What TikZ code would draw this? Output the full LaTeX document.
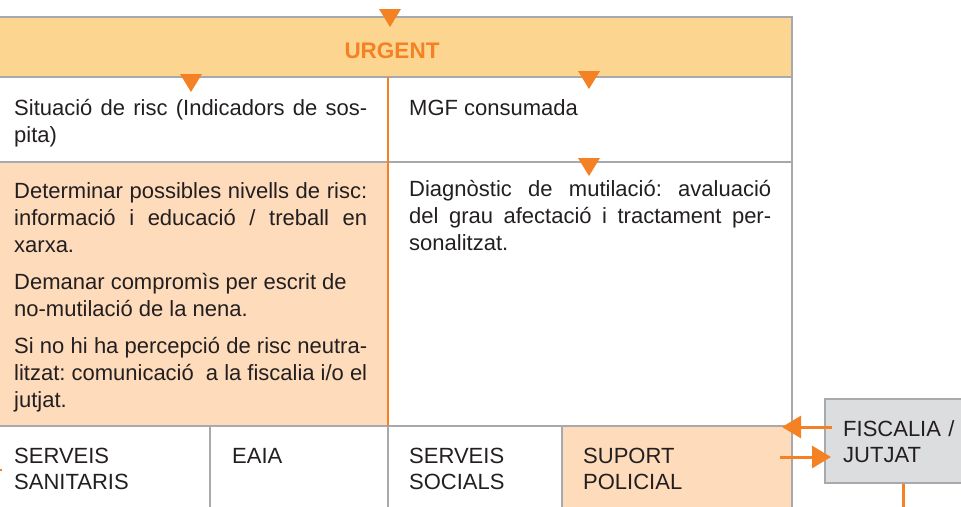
\documentclass[tikz,border=0pt]{standalone}
\usepackage{fontspec}
\setmainfont{Liberation Sans}
\usetikzlibrary{arrows.meta}
\definecolor{orng}{HTML}{F48124}
\definecolor{urg}{HTML}{FCD690}
\definecolor{peach}{HTML}{FDDBBB}
\definecolor{lgray}{HTML}{A7A9AC}
\definecolor{boxgray}{HTML}{DCDDDF}
\definecolor{txt}{HTML}{231F20}
\frenchspacing
\begin{document}
\begin{tikzpicture}[x=1pt,y=-1pt,
  grid/.style={draw=lgray,line width=1.5pt},
  divider/.style={draw=orng,line width=2pt},
  tri/.style={fill=orng},
  lbl/.style={inner sep=0pt,anchor=base west,text=txt,font=\fontsize{22}{27}\selectfont},
  para/.style={lbl,text width=353pt,align=justify,
    execute at begin node={\frenchspacing\hyphenpenalty=10000 \tolerance=9999 \emergencystretch=20pt\relax}},
  stack/.style={lbl,text width=200pt,align=left,font=\fontsize{22}{26}\selectfont},
  arr/.style={draw=orng,line width=3pt,-{Triangle[length=19pt,width=22pt]}}]
\useasboundingbox (0,0) rectangle (961,506);
\clip (0,0) rectangle (961,506);
% fills
\fill[urg] (-5,17) rectangle (792,77);
\fill[peach] (-5,162) rectangle (388,426);
\fill[peach] (562,426) rectangle (792,510);
% grid
\draw[grid] (-5,17) -- (792,17) -- (792,510);
\draw[grid] (-5,77) -- (792,77);
\draw[grid] (-5,162) -- (792,162);
\draw[grid] (-5,426) -- (792,426);
\draw[grid] (210,426) -- (210,510);
\draw[grid] (388,426) -- (388,510);
\draw[grid] (562,426) -- (562,510);
\draw[divider] (388,77) -- (388,426);
% triangles
\fill[tri] (379,9) -- (401,9) -- (390,27) -- cycle;
\fill[tri] (180,74) -- (202,74) -- (191,92) -- cycle;
\fill[tri] (578,71) -- (600,71) -- (589,89) -- cycle;
\fill[tri] (578,158) -- (600,158) -- (589,176) -- cycle;
% texts
\node[inner sep=0pt,anchor=base,text=orng,font=\bfseries\fontsize{22.5}{27}\selectfont] (urgent) at (392,58) {URGENT};
\node[para] (sit) at (14,115) {Situació de risc (Indicadors de sos-\linebreak pita)};
\node[lbl] (mgf) at (409,115) {MGF consumada};
\node[para] (p1) at (14,198) {Determinar possibles nivells de risc:\linebreak informació i educació / treball en\linebreak xarxa.};
\node[para] (p2) at (14,289) {Demanar compromìs per escrit de\newline no-mutilació de la nena.};
\node[para] (p3) at (14,353) {Si no hi ha percepció de risc neutra-\linebreak litzat: comunicació\ \ a la fiscalia i/o el\linebreak jutjat.};
\node[para,text width=362pt] (diag) at (409,196) {Diagnòstic de mutilació: avaluació\linebreak del grau afectació i tractament per-\linebreak sonalitzat.};
\node[stack] (sanit) at (14,463) {SERVEIS\\SANITARIS};
\node[stack] (eaia) at (232,463) {EAIA};
\node[stack] (socials) at (409,463) {SERVEIS\\SOCIALS};
\node[stack] (policia) at (583,463) {SUPORT\\POLICIAL};
% fiscalia box
\node[draw=lgray,line width=1.5pt,fill=boxgray,minimum width=150pt,minimum height=84pt,anchor=north west,inner sep=0pt] (fisc) at (824,398) {};
\node[stack] (fisctxt) at (843,436) {FISCALIA /\\JUTJAT};
% arrows
\coordinate (inR) at (782,427);
\coordinate (outR) at (780,457);
\draw[arr] ([xshift=8pt]fisc.north west |- inR) -- (inR);
\draw[arr] (outR) -- ([xshift=7pt]fisc.north west |- outR);
\draw[orng,line width=3pt] ([xshift=4pt]fisc.south) -- ++(0,30);
\draw[orng,line width=1.5pt] (-2,470) -- (2,470);
\end{tikzpicture}
\end{document}
